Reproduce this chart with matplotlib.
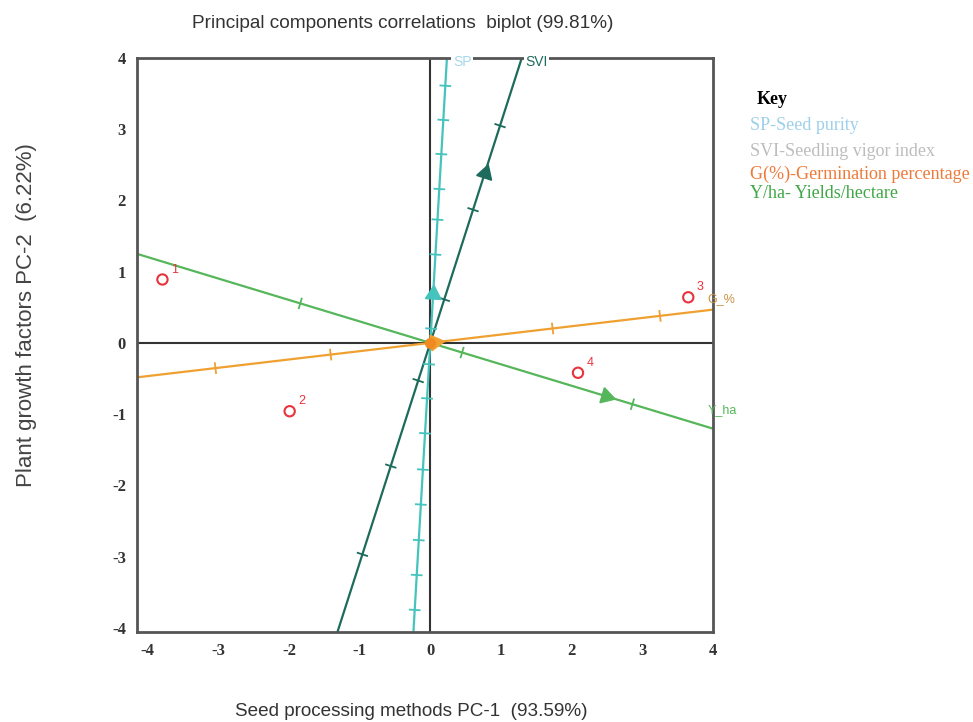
import matplotlib.pyplot as plt
import numpy as np

plt.rcParams['axes.unicode_minus'] = False

# observations (PC-1, PC-2)
obs_x = [-3.79, -1.99, 3.65, 2.09]
obs_y = [0.89, -0.96, 0.64, -0.42]
obs_labels = ['1', '2', '3', '4']

# variable vectors (arrow head position)
var_names = ['SP', 'SVI', 'G_%', 'Y_ha']
var_x = [0.04, 0.77, 0.06, 2.49]
var_y = [0.68, 2.38, 0.007, -0.75]
var_colors = ['#45c3bd', '#1d6b5c', '#f0a030', '#55b65a']
label_colors = ['#a6d8ec', '#1d6b5c', '#c99040', '#55b65a']

# calibration marks along each axis (x for flat lines, y for steep ones)
sp_marks_y = [-3.75, -3.26, -2.77, -2.27, -1.78, -1.27, -0.78, -0.3, 0.2, 1.24, 1.73, 2.16, 2.65, 3.13, 3.61]
svi_marks_y = [-2.97, -1.73, -0.53, 0.61, 1.87, 3.05]
g_marks_x = [-3.04, -1.41, 1.73, 3.25]
y_marks_x = [-1.84, 0.45, 2.86]

key_title = 'Key'
key_items = ['SP-Seed purity', 'SVI-Seedling vigor index', 'G(%)-Germination percentage', 'Y/ha- Yields/hectare']
key_colors = ['#9dd0ea', '#bdbdbd', '#ee7a3a', '#3fa845']

fig = plt.figure(figsize=(9.73, 7.22), dpi=100)
ax = fig.add_axes([137/973, 90/722, 576/973, 574/722])
ax.set_xlim(-4.15, 4.0)
ax.set_ylim(-4.06, 3.94)

ax.axhline(0, color='#333333', lw=1.5, zorder=1)
ax.axvline(0, color='#333333', lw=1.5, zorder=1)

def draw_marks(vx, vy, pos, use_y, color):
    d = np.array([vx, vy]) / np.hypot(vx, vy)
    n = np.array([-d[1], d[0]])
    for p in pos:
        if use_y:
            c = np.array([p * vx / vy, p])
        else:
            c = np.array([p, p * vy / vx])
        a = c - n * 0.07
        b = c + n * 0.07
        ax.plot([a[0], b[0]], [a[1], b[1]], color=color, lw=1.3, zorder=3)

for i in range(len(var_names)):
    vx, vy = var_x[i], var_y[i]
    d = np.array([vx, vy]) / np.hypot(vx, vy)
    ax.plot([-20 * d[0], 20 * d[0]], [-20 * d[1], 20 * d[1]], color=var_colors[i], lw=1.6, zorder=2)
    ang = np.degrees(np.arctan2(vy, vx)) - 90
    ax.plot(vx, vy, marker=(3, 0, ang), markersize=13, color=var_colors[i], zorder=4)

draw_marks(var_x[0], var_y[0], sp_marks_y, True, var_colors[0])
draw_marks(var_x[1], var_y[1], svi_marks_y, True, var_colors[1])
draw_marks(var_x[2], var_y[2], g_marks_x, False, var_colors[2])
draw_marks(var_x[3], var_y[3], y_marks_x, False, var_colors[3])

# orange blob at origin
ax.plot(0, 0, 'o', color='#f08a20', markersize=7, zorder=4)

# variable labels at axis ends
ax.text(0.45, 3.94, 'SP', color=label_colors[0], fontsize=10, ha='center', va='center',
        fontfamily='Liberation Sans', clip_on=False,
        bbox=dict(facecolor='white', edgecolor='none', pad=1))
ax.text(1.5, 3.94, 'SVI', color=label_colors[1], fontsize=10, ha='center', va='center',
        fontfamily='Liberation Sans', clip_on=False,
        bbox=dict(facecolor='white', edgecolor='none', pad=1))
ax.text(3.92, 0.62, 'G_%', color=label_colors[2], fontsize=9, ha='left', va='center',
        fontfamily='Liberation Sans', clip_on=False)
ax.text(3.92, -0.95, 'Y_ha', color=label_colors[3], fontsize=9, ha='left', va='center',
        fontfamily='Liberation Sans', clip_on=False)

# observations
ax.scatter(obs_x, obs_y, s=55, facecolors='none', edgecolors='#e8333c', linewidths=1.5, zorder=5)
for x, y, lab in zip(obs_x, obs_y, obs_labels):
    ax.annotate(lab, (x, y), xytext=(6, 5), textcoords='offset points', color='#e8333c',
                fontsize=9, fontfamily='Liberation Sans')

ax.set_xticks([-4, -3, -2, -1, 0, 1, 2, 3, 4])
ax.set_yticks([-4, -3, -2, -1, 0, 1, 2, 3, 4])
ax.tick_params(length=0, pad=8)
for lab in ax.get_xticklabels() + ax.get_yticklabels():
    lab.set_fontfamily('Liberation Serif')
    lab.set_fontsize(12)
    lab.set_fontweight('bold')
    lab.set_color('#333333')
for s in ax.spines.values():
    s.set_color('#555555')
    s.set_linewidth(2)

fig.text(403/973, 1 - 23/722, 'Principal components correlations  biplot (99.81%)',
         ha='center', va='center', fontsize=13.7, fontfamily='Liberation Sans', color='#333333')
fig.text(411/973, 1 - 712/722, 'Seed processing methods PC-1  (93.59%)',
         ha='center', va='center', fontsize=13.6, fontfamily='Liberation Sans', color='#333333')
fig.text(27/973, 1 - 315/722, 'Plant growth factors PC-2  (6.22%)', rotation=90,
         ha='center', va='center', fontsize=16, fontfamily='Liberation Sans', color='#444444')

# key
fig.text(757/973, 1 - 100/722, key_title, ha='left', va='center', fontsize=13,
         fontweight='bold', fontfamily='Liberation Serif', color='black')
key_y = [126, 151, 174, 194]
for txt, col, yy in zip(key_items, key_colors, key_y):
    fig.text(750/973, 1 - yy/722, txt, ha='left', va='center', fontsize=13,
             fontfamily='Liberation Serif', color=col)

fig.savefig('out.png', dpi=100, facecolor='white')
